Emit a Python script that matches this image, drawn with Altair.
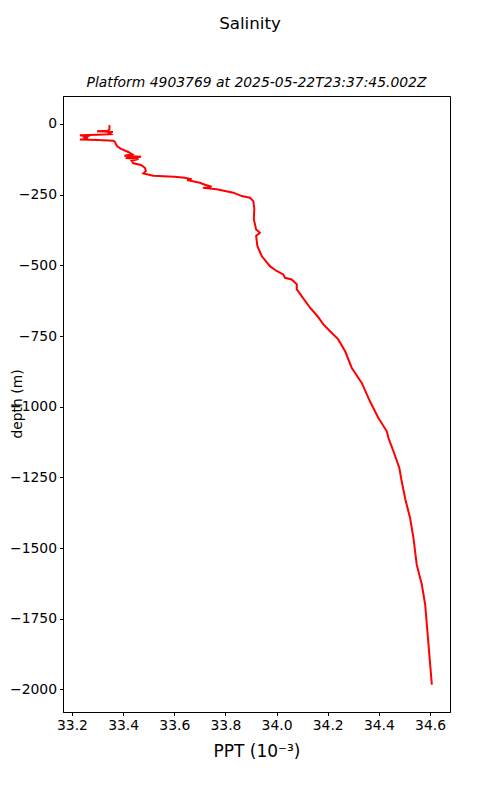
import altair as alt
import pandas as pd

salinity = [
    33.346, 33.347, 33.346, 33.340, 33.298, 33.360, 33.345, 33.352, 33.300, 33.231,
    33.260, 33.250, 33.262, 33.231, 33.300, 33.362, 33.368, 33.372, 33.378, 33.392,
    33.420, 33.435, 33.405, 33.470, 33.410, 33.460, 33.433, 33.440, 33.470, 33.485,
    33.489, 33.479, 33.518, 33.600, 33.640, 33.668, 33.650, 33.700, 33.720, 33.746,
    33.712, 33.766, 33.831, 33.864, 33.896, 33.909, 33.913, 33.911, 33.920, 33.935,
    33.920, 33.925, 33.942, 33.974, 34.000, 34.026, 34.033, 34.059, 34.079, 34.079,
    34.098, 34.131, 34.160, 34.183, 34.209, 34.241, 34.268, 34.294, 34.333, 34.365,
    34.398, 34.431, 34.437, 34.457, 34.480, 34.489, 34.504, 34.522, 34.535, 34.548,
    34.568, 34.581, 34.594, 34.607,
]
depth = [
    -4, -12, -20, -24, -26, -28, -32, -36, -38, -40,
    -44, -48, -52, -55, -57, -59, -63, -72, -80, -88,
    -99, -107, -112, -116, -120, -124, -130, -139, -145, -155,
    -166, -175, -183, -187, -190, -195, -198, -208, -215, -222,
    -226, -231, -243, -255, -261, -273, -300, -337, -373, -385,
    -396, -432, -467, -503, -520, -532, -544, -550, -567, -585,
    -609, -650, -680, -709, -733, -762, -804, -863, -916, -981,
    -1040, -1087, -1110, -1158, -1217, -1264, -1330, -1394, -1464, -1559,
    -1630, -1700, -1842, -1983,
]
x_ticks = [33.2, 33.4, 33.6, 33.8, 34.0, 34.2, 34.4, 34.6]
y_ticks = [0, -250, -500, -750, -1000, -1250, -1500, -1750, -2000]

df = pd.DataFrame({"S": salinity, "D": depth, "i": list(range(len(depth)))})

FONT = "DejaVu Sans"
W, H = 387, 616

line = alt.Chart(df).mark_line(color="#ff0000", strokeWidth=2).encode(
    x=alt.X("S:Q", scale=alt.Scale(domain=[33.165, 34.678], nice=False, zero=False),
            axis=alt.Axis(values=x_ticks, format=".1f", title="PPT (10⁻³)", grid=False,
                          titleFontSize=17, titleFont=FONT, titleFontWeight="normal",
                          titleColor="black", titlePadding=11)),
    y=alt.Y("D:Q", scale=alt.Scale(domain=[-2080, 99], nice=False, zero=False),
            axis=alt.Axis(values=y_ticks, format="d", title=None, grid=False)),
    order=alt.Order("i:Q"),
)

ylab = alt.Chart(pd.DataFrame({"t": ["depth (m)"]})).mark_text(
    angle=270, font=FONT, fontSize=13.9, color="black", baseline="middle", align="center"
).encode(text="t:N", x=alt.value(-45), y=alt.value(308))

suptitle = alt.Chart(pd.DataFrame({"t": ["Salinity"]})).mark_text(
    font=FONT, fontSize=16.7, color="black", baseline="middle", align="center"
).encode(text="t:N", x=alt.value(187), y=alt.value(-72))

subtitle = alt.Chart(pd.DataFrame({"t": ["Platform 4903769 at 2025-05-22T23:37:45.002Z"]})).mark_text(
    font=FONT, fontSize=13.9, fontStyle="italic", color="black", baseline="middle", align="center"
).encode(text="t:N", x=alt.value(W / 2), y=alt.value(-13))

chart = alt.layer(line, ylab, suptitle, subtitle).properties(
    width=W, height=H,
    autosize=alt.AutoSizeParams(type="none"),
    padding={"left": 55, "top": 88, "right": 42, "bottom": 80},
    background="white",
).configure_view(stroke="black", strokeWidth=1).configure_axis(
    labelFont=FONT, labelFontSize=13.9, labelColor="black",
    domainColor="black", tickColor="black", tickSize=3.5, labelPadding=3,
    grid=False, domainWidth=1, tickWidth=1,
)

chart.save("out.html", embed_options={"renderer": "svg", "actions": False})
